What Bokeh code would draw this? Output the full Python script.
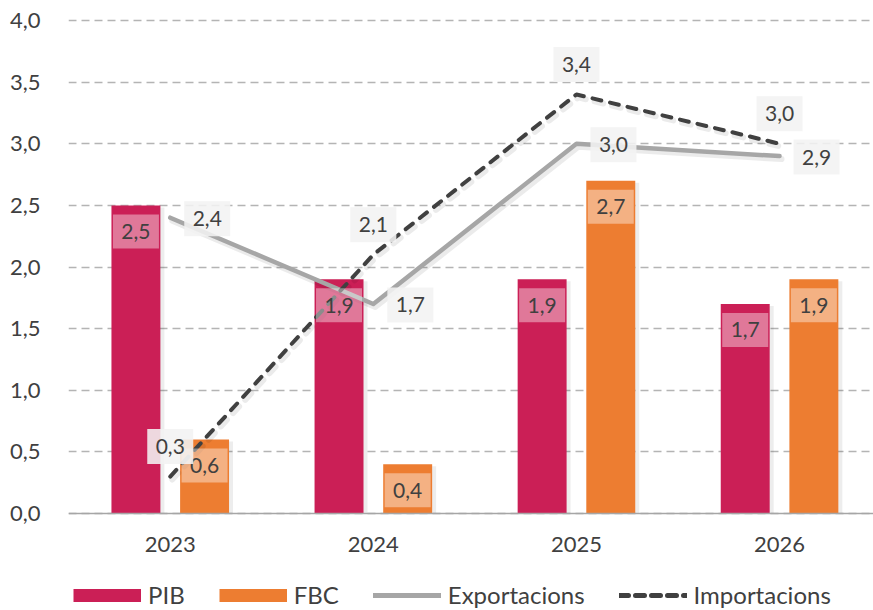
from bokeh.plotting import figure
from bokeh.models import Range1d, FixedTicker, Legend, LegendItem
from bokeh.embed import file_html
from bokeh.resources import INLINE
from bokeh.core.properties import value

# ---------------- data ----------------
years = ["2023", "2024", "2025", "2026"]
pib = [2.5, 1.9, 1.9, 1.7]
fbc = [0.6, 0.4, 2.7, 1.9]
exportacions = [2.4, 1.7, 3.0, 2.9]
importacions = [0.3, 2.1, 3.4, 3.0]
y_ticks = [0.0, 0.5, 1.0, 1.5, 2.0, 2.5, 3.0, 3.5, 4.0]
y_tick_labels = ["0,0", "0,5", "1,0", "1,5", "2,0", "2,5", "3,0", "3,5", "4,0"]

# ---------------- style ----------------
FONT = "Lato"
TXT = "#404040"
C_PIB = "#CB1F56"
C_FBC = "#ED7D31"
C_EXP = "#A6A6A6"
C_IMP = "#404040"

W, H = 873, 610
B_LEFT, B_TOP = 68, 18
FRAME_W, FRAME_H = W - B_LEFT, H - B_TOP
PX_PER_UNIT_Y = 123.25          # vertical scale of the value axis
BOTTOM_SPACE_PX = 97            # room under the value 0 line (axis labels + legend)
ypx = 1.0 / PX_PER_UNIT_Y
Y0 = -BOTTOM_SPACE_PX * ypx
Y1 = Y0 + FRAME_H * ypx
X0, X1 = -0.501, 3.4626
xpx = (X1 - X0) / FRAME_W

def fmt(v):
    return f"{v:.1f}".replace(".", ",")

idx = list(range(len(years)))
BAR_OFF = 0.169
BAR_W = 0.241

p = figure(width=W, height=H,
           x_range=Range1d(X0, X1), y_range=Range1d(Y0, Y1),
           output_backend="svg", toolbar_location=None,
           min_border_left=B_LEFT, min_border_right=0, min_border_top=B_TOP,
           min_border_bottom=0, outline_line_color=None,
           background_fill_color="white", border_fill_color="white")

# axes
p.xaxis.fixed_location = 0
p.xaxis.ticker = FixedTicker(ticks=idx, minor_ticks=[])
p.xaxis.major_label_overrides = {i: y for i, y in zip(idx, years)}
p.xaxis.axis_line_color = "#A6A6A6"
p.xaxis.axis_line_width = 1.5
p.xaxis.major_tick_line_color = None
p.xaxis.minor_tick_line_color = None
p.xaxis.major_label_standoff = 17
p.xaxis.major_label_text_font = FONT
p.xaxis.major_label_text_font_size = "22px"
p.xaxis.major_label_text_color = TXT

p.yaxis.ticker = FixedTicker(ticks=y_ticks, minor_ticks=[])
p.yaxis.major_label_overrides = {t: l for t, l in zip(y_ticks, y_tick_labels)}
p.yaxis.axis_line_color = None
p.yaxis.major_tick_line_color = None
p.yaxis.minor_tick_line_color = None
p.yaxis.major_label_standoff = 22
p.yaxis.major_label_text_font = FONT
p.yaxis.major_label_text_font_size = "22px"
p.yaxis.major_label_text_color = TXT

p.xgrid.grid_line_color = None
p.ygrid.ticker = FixedTicker(ticks=y_ticks, minor_ticks=[])
p.ygrid.grid_line_color = "#B4B4B4"
p.ygrid.grid_line_width = 1.4
p.ygrid.grid_line_dash = "8 5"

# bars (with a faint shadow on the right)
x_pib = [i - BAR_OFF for i in idx]
x_fbc = [i + BAR_OFF for i in idx]
for xs, vals in ((x_pib, pib), (x_fbc, fbc)):
    p.vbar(x=[x + 4 * xpx for x in xs], top=[v - 2 * ypx for v in vals], bottom=0,
           width=BAR_W, fill_color="#000000", fill_alpha=0.07, line_color=None)
p.vbar(x=x_pib, top=pib, bottom=0, width=BAR_W, fill_color=C_PIB, line_color=None)
p.vbar(x=x_fbc, top=fbc, bottom=0, width=BAR_W, fill_color=C_FBC, line_color=None)

# line shadows
p.line([i + 2 * xpx for i in idx], [v - 3 * ypx for v in exportacions],
       line_color="#000000", line_alpha=0.08, line_width=6, line_join="round", line_cap="round")
p.line([i + 2 * xpx for i in idx], [v - 3 * ypx for v in importacions],
       line_color="#000000", line_alpha=0.08, line_width=6, line_dash="9 9",
       line_join="round", line_cap="round")

# lines
p.line(idx, exportacions, line_color=C_EXP, line_width=4.5,
       line_join="round", line_cap="round")
p.line(idx, importacions, line_color=C_IMP, line_width=4, line_dash="9 9",
       line_join="round", line_cap="round")

# bar labels (inside, near top)
for xs, vals in ((x_pib, pib), (x_fbc, fbc)):
    ys = [v - 26 * ypx for v in vals]
    p.rect(x=xs, y=ys, width=46, height=34, width_units="screen",
           height_units="screen", fill_color="white", fill_alpha=0.4, line_color=None)
    p.text(x=xs, y=ys, text=[fmt(v) for v in vals], text_align="center",
           text_baseline="middle", text_font=value(FONT), text_font_size="21px",
           text_color=TXT)

# line labels
exp_x = [i + 37 * xpx for i in idx]
exp_y = [v - 1 * ypx for v in exportacions]
imp_x = [i for i in idx]
imp_y = [v + 30 * ypx for v in importacions]
for xs, ys, vals in ((imp_x, imp_y, importacions), (exp_x, exp_y, exportacions)):
    p.rect(x=xs, y=ys, width=46, height=35, width_units="screen",
           height_units="screen", fill_color="#F2F2F2", fill_alpha=0.88, line_color=None)
    p.text(x=xs, y=ys, text=[fmt(v) for v in vals], text_align="center",
           text_baseline="middle", text_font=value(FONT), text_font_size="21px",
           text_color=TXT)

# legend proxies (single-point lines draw nothing on the plot)
lg_pib = p.line(x=[idx[0]], y=[0], line_color=C_PIB, line_width=13)
lg_fbc = p.line(x=[idx[0]], y=[0], line_color=C_FBC, line_width=13)
lg_exp = p.line(x=[idx[0]], y=[0], line_color=C_EXP, line_width=5, line_cap="round")
lg_imp = p.line(x=[idx[0]], y=[0], line_color=C_IMP, line_width=5, line_dash="9 7",
                line_cap="round")

legend = Legend(items=[LegendItem(label="PIB", renderers=[lg_pib]),
                       LegendItem(label="FBC", renderers=[lg_fbc]),
                       LegendItem(label="Exportacions", renderers=[lg_exp]),
                       LegendItem(label="Importacions", renderers=[lg_imp])],
                orientation="horizontal", location=(5, 1),
                glyph_width=68, glyph_height=28, label_height=28,
                label_standoff=7, spacing=34,
                label_text_font=FONT, label_text_font_size="24px",
                label_text_color=TXT, border_line_color=None,
                background_fill_alpha=0, padding=0, margin=0)
p.add_layout(legend, "center")

open("out.html", "w").write(file_html(p, INLINE))
